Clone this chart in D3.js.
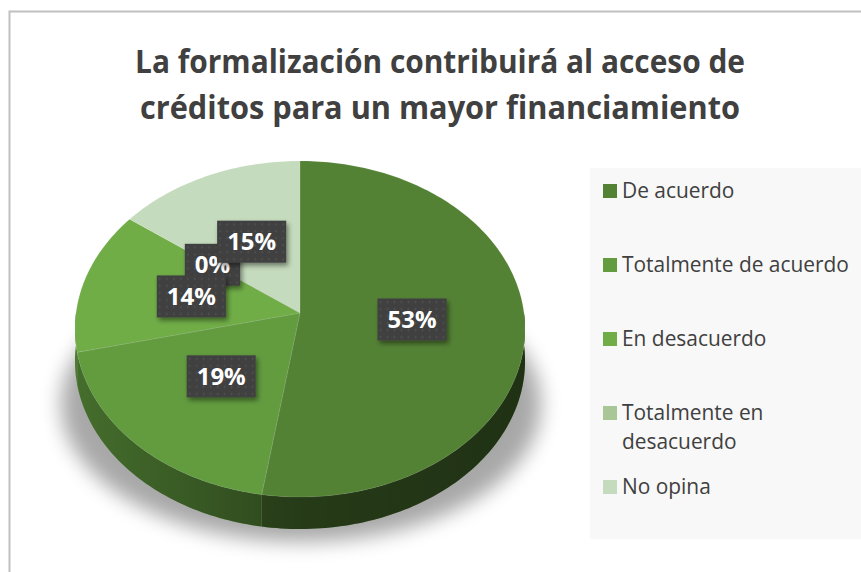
<!DOCTYPE html>
<html>
<head>
<meta charset="utf-8">
<script src="https://cdn.jsdelivr.net/npm/d3@7"></script>
<style>
  body { margin: 0; background: #fff; }
  svg { display: block; }
</style>
</head>
<body>
<svg id="chart" width="861" height="572"></svg>
<script>
// data
const categories = ["De acuerdo", "Totalmente de acuerdo", "En desacuerdo", "Totalmente en desacuerdo", "No opina"];
const values = [53, 19, 14, 0, 15];
const valueLabels = ["53%", "19%", "14%", "0%", "15%"];
const colors = ["#548235", "#629c3f", "#70ad47", "#a9c796", "#c5dbbd"];
const titleLines = ["La formalización contribuirá al acceso de", "créditos para un mayor financiamiento"];

const svg = d3.select("#chart");
const defs = svg.append("defs");

// chart frame
svg.append("rect")
    .attr("x", 9.5).attr("y", 11.5)
    .attr("width", 900).attr("height", 600)
    .attr("fill", "#fff")
    .attr("stroke", "#c0c0c0")
    .attr("stroke-width", 2);

// title
const title = svg.append("g");
const titleWidths = [610, 600];
titleLines.forEach((line, i) => {
    title.append("text")
        .attr("x", 440)
        .attr("y", 73 + i * 46)
        .attr("text-anchor", "middle")
        .attr("font-family", "'Open Sans', 'Noto Sans', sans-serif")
        .attr("font-weight", 700)
        .attr("font-size", 33)
        .attr("fill", "#404040")
        .attr("textLength", titleWidths[i])
        .attr("lengthAdjust", "spacingAndGlyphs")
        .text(line);
});

// 3d pie geometry (simple perspective tilt)
const cx = 300, cy = 313;
const rx = 224, ry = 166.5, persp = 0.0952, depth = 32;

function project(theta, r, dy) {
    const X = Math.sin(theta) * r;
    const Z = -Math.cos(theta) * r;
    const s = 1 / (1 - persp * Z);
    return [cx + rx * X * s, cy + ry * Z * s + (dy || 0)];
}

function arcPoints(a0, a1, dy) {
    const n = Math.max(2, Math.ceil((a1 - a0) / 0.02));
    return d3.range(n + 1).map(i => project(a0 + (a1 - a0) * i / n, 1, dy));
}

const pie = d3.pie().sort(null).value(d => d);
const arcs = pie(values);
const lineGen = d3.line();

// soft shadow under the pie
defs.append("filter").attr("id", "blur")
    .attr("x", "-20%").attr("y", "-20%").attr("width", "140%").attr("height", "140%")
    .append("feGaussianBlur").attr("stdDeviation", 10);

svg.append("ellipse")
    .attr("cx", 301).attr("cy", 404)
    .attr("rx", 240).attr("ry", 138)
    .attr("fill", "#000")
    .attr("opacity", 0.34)
    .attr("filter", "url(#blur)");

// side shading
const sideGrad = defs.append("linearGradient")
    .attr("id", "sideShade")
    .attr("gradientUnits", "userSpaceOnUse")
    .attr("x1", cx - rx).attr("x2", cx + rx).attr("y1", 0).attr("y2", 0);
sideGrad.append("stop").attr("offset", 0).attr("stop-color", "#000").attr("stop-opacity", 0.3);
sideGrad.append("stop").attr("offset", 0.5).attr("stop-color", "#000").attr("stop-opacity", 0.55);
sideGrad.append("stop").attr("offset", 1).attr("stop-color", "#000").attr("stop-opacity", 0.62);

const sides = svg.append("g");
arcs.forEach((a, i) => {
    const a0 = Math.max(a.startAngle, Math.PI / 2);
    const a1 = Math.min(a.endAngle, Math.PI * 3 / 2);
    if (a1 <= a0) return;
    const pts = arcPoints(a0, a1, 0).concat(arcPoints(a0, a1, depth).reverse());
    sides.append("path").attr("d", lineGen(pts) + "Z").attr("fill", colors[i]);
    sides.append("path").attr("d", lineGen(pts) + "Z").attr("fill", "url(#sideShade)");
});

// top face
const topFace = svg.append("g");
arcs.forEach((a, i) => {
    if (a.endAngle - a.startAngle <= 0) return;
    const pts = [[cx, cy]].concat(arcPoints(a.startAngle, a.endAngle, 0));
    topFace.append("path")
        .attr("d", lineGen(pts) + "Z")
        .attr("fill", colors[i])
        .attr("stroke", "rgba(255,255,255,0.12)")
        .attr("stroke-width", 0.8);
});

// data labels
const pat = defs.append("pattern").attr("id", "dots")
    .attr("patternUnits", "userSpaceOnUse")
    .attr("width", 7).attr("height", 7);
pat.append("rect").attr("width", 7).attr("height", 7).attr("fill", "#404040");
pat.append("circle").attr("cx", 3.5).attr("cy", 3.5).attr("r", 0.9).attr("fill", "#545454");

const shadow = defs.append("filter").attr("id", "boxShadow")
    .attr("x", "-30%").attr("y", "-30%").attr("width", "160%").attr("height", "160%");
shadow.append("feDropShadow")
    .attr("dx", 2).attr("dy", 3).attr("stdDeviation", 2.5)
    .attr("flood-color", "#000").attr("flood-opacity", 0.45);

const order = d3.range(values.length).sort((a, b) => values[a] - values[b]);
const labelsG = svg.append("g");
order.forEach(i => {
    const a = arcs[i];
    const mid = (a.startAngle + a.endAngle) / 2;
    const [lx, ly] = project(mid, 0.5, 0);
    const g = labelsG.append("g").attr("transform", `translate(${lx},${ly})`);
    const box = g.append("rect").attr("fill", "url(#dots)").attr("filter", "url(#boxShadow)");
    const t = g.append("text")
        .attr("text-anchor", "middle")
        .attr("dy", "0.36em")
        .attr("font-family", "'Open Sans', 'Noto Sans', sans-serif")
        .attr("font-weight", 700)
        .attr("font-size", 24)
        .attr("fill", "#fff")
        .text(valueLabels[i]);
    const w = t.node().getComputedTextLength() + 20;
    box.attr("x", -w / 2).attr("y", -21).attr("width", w).attr("height", 42);
});

// legend
svg.append("rect")
    .attr("x", 590).attr("y", 168)
    .attr("width", 290).attr("height", 371)
    .attr("fill", "#f8f8f8");

const legendFont = "'Open Sans', 'Noto Sans', sans-serif";
// pick a font size so the longest single line matches the original width
const probe = svg.append("text").attr("font-family", legendFont).attr("font-size", 18).text("Totalmente de acuerdo");
const legendSize = 18 * 227 / probe.node().getComputedTextLength();
probe.remove();

const maxLine = 232;
const legend = svg.append("g").attr("transform", "translate(603,191)");
categories.forEach((name, i) => {
    const g = legend.append("g").attr("transform", `translate(0,${i * 74})`);
    g.append("rect")
        .attr("x", 0).attr("y", -7)
        .attr("width", 14).attr("height", 14)
        .attr("fill", colors[i]);
    const t = g.append("text")
        .attr("x", 19)
        .attr("font-family", legendFont)
        .attr("font-size", legendSize)
        .attr("fill", "#404040");
    // wrap words onto extra lines if too long
    const words = name.split(" ");
    let lineWords = [], lineNo = 0;
    let tspan = t.append("tspan").attr("x", 19).attr("y", 0).attr("dy", "0.35em");
    words.forEach(w => {
        lineWords.push(w);
        tspan.text(lineWords.join(" "));
        if (tspan.node().getComputedTextLength() > maxLine && lineWords.length > 1) {
            lineWords.pop();
            tspan.text(lineWords.join(" "));
            lineWords = [w];
            lineNo++;
            tspan = t.append("tspan").attr("x", 19).attr("y", lineNo * 29).attr("dy", "0.35em").text(w);
        }
    });
});
</script>
</body>
</html>
